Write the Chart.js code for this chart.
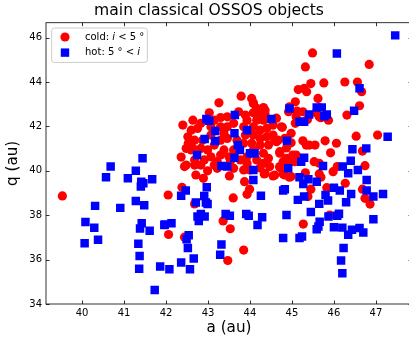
<!DOCTYPE html>
<html>
<head>
<meta charset="utf-8">
<script src="https://cdn.jsdelivr.net/npm/chart.js@4"></script>
<style>
  html, body { margin: 0; padding: 0; overflow: hidden; background: #fff; }
  #wrap { width: 418px; height: 341px; }
</style>
</head>
<body>
<div id="wrap"><canvas id="chart" width="418" height="341"></canvas></div>
<script>
// cold classicals (i < 5 deg): semimajor axis a and perihelion q, in au
const coldA = [
  39.53, 42.05, 42.06, 42.44, 43.36, 43.53, 43.85, 43.47, 42.38, 42.68,
  43.60, 43.51, 42.71, 42.89, 42.99, 43.15, 42.44, 43.87, 43.93, 43.99,
  44.34, 44.55, 44.71, 44.83, 45.49, 45.32, 46.84, 45.45, 45.76, 46.26,
  46.56, 46.66, 45.15, 45.29, 45.35, 45.62, 45.08, 44.94, 44.92, 45.12,
  45.26, 45.57, 45.65, 45.69, 45.87, 45.37, 45.08, 46.61, 46.31, 44.77,
  46.53, 47.04, 44.63, 44.83, 44.98, 45.26, 45.34, 45.41, 45.55, 45.79,
  46.06, 45.92, 46.68, 44.71, 45.10, 44.87, 44.94, 44.71, 45.53, 45.65,
  46.08, 46.74, 45.98, 44.79, 44.94, 45.32, 45.65, 45.69, 46.27, 45.45,
  45.83, 46.68, 46.74, 45.38, 46.86, 45.90, 45.27, 43.79, 44.04, 44.08,
  43.26, 44.16, 44.32, 43.03,
  42.64, 42.83, 42.60, 42.75, 43.30, 43.46, 43.15, 43.89, 44.08, 44.28,
  44.36, 44.16, 44.32, 42.52, 42.53, 42.68, 42.48, 42.60, 43.07, 43.30,
  43.38, 43.07, 43.30, 43.46, 43.85, 44.08, 44.24, 44.40, 43.89, 44.08,
  44.24, 44.40, 43.85, 44.04, 44.24, 44.44, 44.55, 44.75, 42.83, 42.99,
  43.07, 42.91, 42.68, 42.48, 43.38, 43.50, 43.22, 43.93, 44.16, 44.32,
  44.44, 43.93, 44.32, 44.47, 44.71, 44.79, 44.67, 44.08, 43.73, 44.16,
  44.36, 44.59, 44.98, 45.10, 45.02, 45.06, 44.75, 44.36, 44.59, 43.61,
  44.98, 42.64, 42.68, 42.83, 43.22, 43.53, 43.61, 43.69, 43.77, 43.61,
  43.46, 43.15, 42.36, 42.40, 43.93, 44.63, 44.55, 44.87, 44.08, 43.30,
  42.87, 44.24, 44.00, 43.85
];
const coldQ = [
  38.87, 38.91, 37.13, 37.01, 37.74, 37.39, 36.43, 35.96, 39.26, 38.51,
  38.78, 39.77, 39.81, 39.66, 40.00, 40.26, 40.19, 39.51, 38.94, 39.17,
  39.86, 39.77, 40.16, 39.81, 45.31, 44.68, 44.79, 43.93, 43.96, 44.00,
  44.00, 43.56, 43.66, 43.71, 43.56, 43.26, 43.11, 42.88, 42.66, 42.69,
  42.66, 42.61, 42.43, 42.39, 42.28, 42.31, 42.14, 42.93, 42.51, 41.96,
  41.56, 41.61, 41.31, 41.46, 41.26, 41.35, 41.16, 41.16, 41.16, 41.35,
  41.24, 40.81, 40.89, 40.79, 40.71, 40.56, 40.41, 40.19, 40.41, 40.34,
  40.19, 40.23, 39.96, 39.86, 39.71, 39.91, 39.86, 39.71, 39.44, 39.17,
  39.24, 39.17, 38.76, 38.84, 38.50, 38.01, 37.60, 43.36, 43.26, 43.06,
  43.06, 42.81, 42.85, 42.61,
  42.28, 42.14, 41.83, 41.91, 42.40, 42.43, 42.28, 42.51, 42.61, 42.51,
  42.73, 42.28, 42.28, 41.53, 41.24, 41.38, 41.01, 40.94, 41.98, 41.98,
  41.69, 41.61, 41.38, 41.46, 41.98, 41.98, 41.83, 41.91, 41.61, 41.61,
  41.46, 41.53, 41.24, 41.24, 41.16, 41.16, 41.61, 41.98, 41.01, 40.94,
  40.63, 40.49, 40.49, 40.26, 40.94, 40.63, 40.41, 40.63, 40.49, 40.79,
  40.56, 40.34, 40.34, 40.19, 40.86, 40.41, 41.38, 43.03, 42.66, 42.55,
  42.55, 41.38, 41.69, 42.43, 40.71, 40.41, 40.11, 39.89, 39.81, 40.11,
  39.74, 41.01, 40.26, 40.26, 40.11, 40.41, 42.14, 41.38, 40.49, 40.94,
  41.98, 41.16, 40.62, 42.06, 42.28, 42.37, 42.06, 41.03, 40.94, 40.71,
  41.38, 40.13, 40.04, 40.04
];

// hot classicals (i > 5 deg)
const hotA = [
  40.68, 41.28, 41.44, 40.57, 41.09, 41.41, 41.46, 41.40, 41.67, 40.31,
  40.91, 41.28, 41.48, 40.08, 40.29, 41.42, 41.38, 41.61, 41.97, 40.06,
  40.38, 41.34, 41.37, 41.36, 41.86, 41.73, 43.32, 43.46, 44.08, 44.08,
  42.97, 44.26, 44.79, 42.36, 42.47, 42.91, 42.71, 42.95, 42.99, 42.83,
  42.75, 42.92, 42.78, 43.42, 43.52, 43.91, 43.97, 44.29, 44.18, 41.96,
  42.13, 42.54, 42.49, 42.52, 43.32, 43.29, 42.66, 42.36, 42.57, 42.08,
  44.79, 47.46, 46.07, 46.61, 44.94, 45.59, 45.71, 45.41, 45.77, 45.83,
  45.18, 45.29, 46.48, 47.28, 44.88, 46.44, 46.77, 45.29, 45.22, 45.74,
  46.21, 46.40, 44.91, 46.57, 46.34, 45.18, 45.39, 45.27, 45.59, 46.78,
  44.83, 46.00, 46.14, 46.78, 46.41, 45.80, 46.94, 47.17, 45.29, 45.14,
  45.86, 45.65, 46.29, 44.87, 45.45, 45.87, 46.12, 46.08, 46.94, 45.66,
  45.63, 45.59, 46.00, 46.20, 46.34, 46.43, 46.61, 46.70, 45.18, 45.24,
  46.23, 46.17, 46.20, 43.64, 42.96, 43.03, 44.51, 43.17, 43.93, 43.63,
  42.92, 43.17, 43.71, 43.76, 43.63, 44.00, 44.11, 42.74
];
const hotQ = [
  40.19, 40.00, 40.56, 39.71, 39.66, 39.51, 39.44, 39.29, 39.62, 38.42,
  38.33, 38.64, 38.45, 37.69, 37.43, 37.64, 37.40, 37.30, 37.58, 36.74,
  36.89, 36.71, 36.16, 35.59, 35.69, 34.63, 40.22, 40.19, 40.04, 39.59,
  39.26, 38.88, 39.11, 38.88, 39.11, 38.87, 38.57, 38.57, 38.50, 38.05,
  37.94, 37.94, 37.74, 38.05, 37.98, 38.05, 37.98, 37.91, 37.56, 37.56,
  37.64, 37.10, 36.92, 36.52, 36.68, 36.22, 36.05, 35.87, 35.57, 35.57,
  36.97, 46.10, 45.28, 43.72, 42.81, 42.85, 42.85, 42.54, 42.46, 42.54,
  42.21, 42.21, 42.70, 41.53, 41.35, 40.97, 41.01, 40.59, 40.41, 40.22,
  40.19, 40.45, 40.11, 40.04, 39.89, 39.71, 39.62, 39.41, 39.51, 39.59,
  39.17, 39.24, 39.11, 39.11, 38.96, 38.91, 38.84, 38.96, 38.84, 38.69,
  38.66, 38.51, 38.58, 38.01, 38.14, 37.94, 38.06, 37.97, 37.82, 37.70,
  37.49, 37.37, 37.46, 37.44, 37.12, 37.34, 37.42, 37.22, 36.97, 37.04,
  36.52, 35.96, 35.39, 42.51, 42.33, 42.25, 42.33, 41.79, 41.83, 41.69,
  41.43, 41.34, 41.16, 40.94, 40.59, 40.79, 40.79, 40.71
];

const xTicks = [40, 41, 42, 43, 44, 45, 46, 47];
const yTicks = [34, 36, 38, 40, 42, 44, 46];

const legendItems = [
  { color: '#ff0000', shape: 'circle', parts: [['cold: ', false], ['i', true], [' < 5 °', false]] },
  { color: '#0000ff', shape: 'square', parts: [['hot: 5 ° < ', false], ['i', true]] }
];

function toPoints(xs, ys) {
  return xs.map((x, i) => ({ x: x, y: ys[i] }));
}

const FONT = 'DejaVu Sans';
Chart.defaults.font.family = FONT;
Chart.defaults.color = '#000';

// matplotlib style frame with ticks pointing inwards
const frameTicks = {
  id: 'frameTicks',
  afterDraw(chart) {
    const ctx = chart.ctx;
    const a = chart.chartArea;
    const xs = chart.scales.x, ys = chart.scales.y;
    const len = 3.5;
    ctx.save();
    ctx.strokeStyle = '#000';
    ctx.lineWidth = 0.8;
    ctx.beginPath();
    xTicks.forEach(v => {
      const px = Math.round(xs.getPixelForValue(v)) + 0.5;
      ctx.moveTo(px, a.bottom); ctx.lineTo(px, a.bottom - len);
      ctx.moveTo(px, a.top); ctx.lineTo(px, a.top + len);
    });
    yTicks.forEach(v => {
      const py = Math.round(ys.getPixelForValue(v)) + 0.5;
      ctx.moveTo(a.left, py); ctx.lineTo(a.left + len, py);
      ctx.moveTo(a.right, py); ctx.lineTo(a.right - len, py);
    });
    ctx.stroke();
    ctx.strokeRect(a.left, a.top, a.right - a.left, a.bottom - a.top);
    ctx.restore();
  }
};

// legend box in the upper left corner of the axes
const cornerLegend = {
  id: 'cornerLegend',
  afterDraw(chart) {
    const ctx = chart.ctx;
    const a = chart.chartArea;
    const bx = a.left + 5.7, by = a.top + 5.3, bw = 95.6, bh = 34.4;
    ctx.save();
    ctx.fillStyle = 'rgba(255,255,255,0.8)';
    ctx.strokeStyle = '#cccccc';
    ctx.lineWidth = 1;
    ctx.beginPath();
    ctx.roundRect(bx, by, bw, bh, 2.5);
    ctx.fill();
    ctx.stroke();

    legendItems.forEach((item, i) => {
      const cy = by + 9 + i * 15.6;
      const mx = bx + 13.3;
      ctx.fillStyle = item.color;
      if (item.shape === 'circle') {
        ctx.beginPath();
        ctx.arc(mx, cy, 4.6, 0, Math.PI * 2);
        ctx.fill();
      } else {
        ctx.fillRect(mx - 4.2, cy - 4.2, 8.4, 8.4);
      }
      ctx.fillStyle = '#000';
      ctx.textBaseline = 'middle';
      let tx = bx + 33.3;
      item.parts.forEach(p => {
        ctx.font = (p[1] ? 'italic ' : '') + '10px "' + FONT + '"';
        ctx.fillText(p[0], tx, cy);
        tx += ctx.measureText(p[0]).width;
      });
    });
    ctx.restore();
  }
};

new Chart(document.getElementById('chart'), {
  type: 'scatter',
  data: {
    datasets: [
      {
        label: 'cold: i < 5°',
        data: toPoints(coldA, coldQ),
        backgroundColor: '#ff0000',
        pointStyle: 'circle',
        pointRadius: 4.6,
        borderWidth: 0,
        order: 2
      },
      {
        label: 'hot: 5° < i',
        data: toPoints(hotA, hotQ),
        backgroundColor: '#0000ff',
        pointStyle: 'rect',
        pointRadius: 6,
        borderWidth: 0,
        order: 1
      }
    ]
  },
  options: {
    responsive: false,
    devicePixelRatio: 1,
    animation: false,
    events: [],
    layout: { padding: 0 },
    plugins: {
      legend: { display: false },
      tooltip: { enabled: false },
      title: {
        display: true,
        text: 'main classical OSSOS objects',
        color: '#000',
        font: { size: 15.6, weight: 'normal' },
        padding: { top: 2, bottom: 2 }
      }
    },
    scales: {
      x: {
        type: 'linear',
        min: 39.14,
        max: 47.86,
        afterBuildTicks: s => { s.ticks = xTicks.map(v => ({ value: v })); },
        afterFit: s => { s.height = 37; },
        grid: { display: false, drawTicks: false },
        border: { display: false },
        ticks: { color: '#000', font: { size: 10 }, padding: 3, maxRotation: 0, autoSkip: false },
        title: { display: true, text: 'a (au)', color: '#000', font: { size: 15.2 }, padding: { top: 4, bottom: 4 } }
      },
      y: {
        type: 'linear',
        min: 34,
        max: 46.67,
        afterBuildTicks: s => { s.ticks = yTicks.map(v => ({ value: v })); },
        afterFit: s => { s.width = 46; },
        grid: { display: false, drawTicks: false },
        border: { display: false },
        ticks: { color: '#000', font: { size: 10 }, padding: 4, autoSkip: false },
        title: { display: true, text: 'q (au)', color: '#000', font: { size: 15.2 }, padding: { top: 4, bottom: 4 } }
      }
    }
  },
  plugins: [frameTicks, cornerLegend]
});
</script>
</body>
</html>
